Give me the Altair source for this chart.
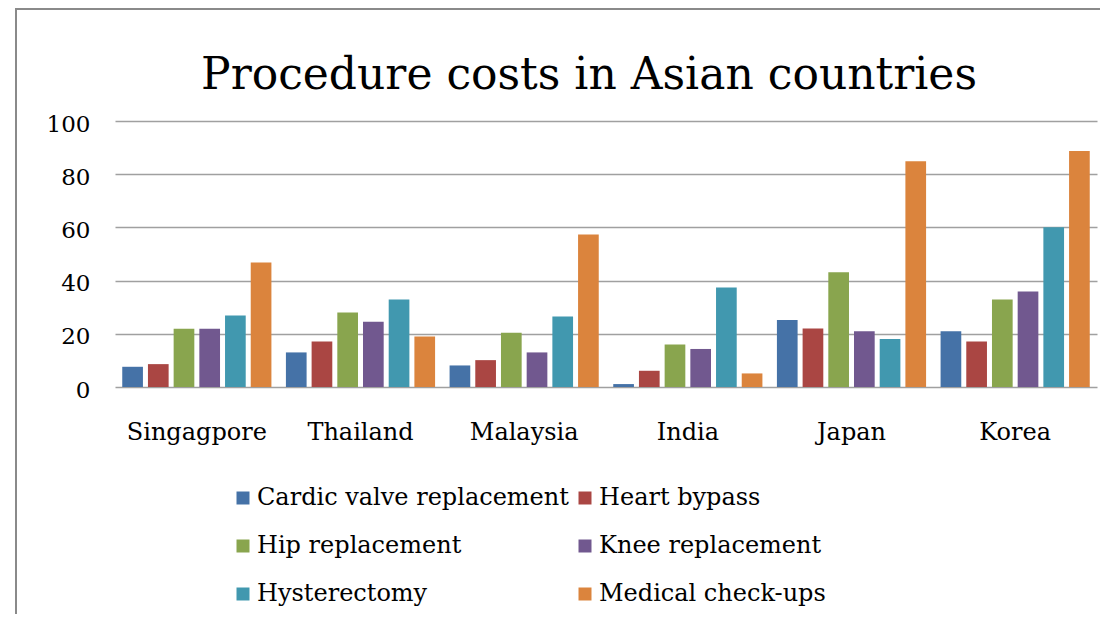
import altair as alt
import pandas as pd

countries = ["Singagpore", "Thailand", "Malaysia", "India", "Japan", "Korea"]
procedures = [
    "Cardic valve replacement",
    "Heart bypass",
    "Hip replacement",
    "Knee replacement",
    "Hysterectomy",
    "Medical check-ups",
]
cardic_valve = [7.6, 13.0, 8.1, 1.1, 25.2, 21.0]
heart_bypass = [8.6, 17.1, 10.1, 6.1, 22.0, 17.1]
hip_replacement = [21.9, 28.0, 20.4, 16.0, 43.1, 32.9]
knee_replacement = [21.9, 24.5, 13.0, 14.3, 21.0, 35.9]
hysterectomy = [26.9, 32.9, 26.5, 37.4, 18.0, 60.1]
medical_checkups = [46.8, 19.0, 57.3, 5.1, 84.9, 88.7]
y_ticks = [0, 20, 40, 60, 80, 100]
colors = ["#4572A7", "#AA4643", "#89A54E", "#71588F", "#4198AF", "#DB843D"]

series = [cardic_valve, heart_bypass, hip_replacement, knee_replacement,
          hysterectomy, medical_checkups]
rows = []
for proc, vals in zip(procedures, series):
    for c, v in zip(countries, vals):
        rows.append({"country": c, "procedure": proc, "value": v})
df = pd.DataFrame(rows)

FONT = "DejaVu Serif"

bars = alt.Chart(df).mark_bar().encode(
    x=alt.X("country:N", sort=countries, title=None,
            scale=alt.Scale(paddingInner=0.0886, paddingOuter=0.0443),
            axis=alt.Axis(labelAngle=0, labelFont=FONT, labelFontSize=24,
                          labelColor="black", domain=False, ticks=False,
                          tickSize=0, labelPadding=33, grid=False)),
    xOffset=alt.XOffset("procedure:N", sort=procedures,
                        scale=alt.Scale(paddingInner=0.195, paddingOuter=0)),
    y=alt.Y("value:Q", title=None,
            scale=alt.Scale(domain=[0, 100], nice=False),
            axis=alt.Axis(values=y_ticks, labelFont=FONT, labelFontSize=23,
                          labelColor="black", domain=False, ticks=False,
                          tickSize=0, labelPadding=25, labelOffset=3,
                          grid=True, gridColor="#a0a0a0", gridWidth=1.5)),
    color=alt.Color("procedure:N", sort=procedures,
                    scale=alt.Scale(domain=procedures, range=colors),
                    legend=alt.Legend(
                        title=None, orient="none", legendX=116, legendY=365,
                        direction="horizontal", columns=2,
                        symbolType="square", symbolSize=169,
                        symbolStrokeWidth=0, labelFont=FONT,
                        labelFontSize=24, labelColor="black",
                        labelLimit=500, labelOffset=2, columnPadding=4,
                        rowPadding=24, padding=0)),
)

frame = alt.Chart(pd.DataFrame({"a": [0]})).mark_rect(
    fillOpacity=0, stroke="#8a8a8a", strokeWidth=2, clip=False
).encode(
    x=alt.value(-99), x2=alt.value(1300),
    y=alt.value(-112), y2=alt.value(700),
)

chart = alt.layer(bars, frame).properties(
    width=982,
    height=266,
    autosize=alt.AutoSizeParams(type="none"),
    padding={"left": 107, "top": 113, "right": 3, "bottom": 227},
    title=alt.TitleParams(
        "Procedure costs in Asian countries", font=FONT, fontSize=44,
        fontWeight="normal", color="black", anchor="middle", frame="group",
        dx=-17, offset=-125, baseline="alphabetic"),
).configure_view(strokeWidth=0).configure_legend(labelFont=FONT)

chart.save("out.html", embed_options={"renderer": "svg", "actions": False})
